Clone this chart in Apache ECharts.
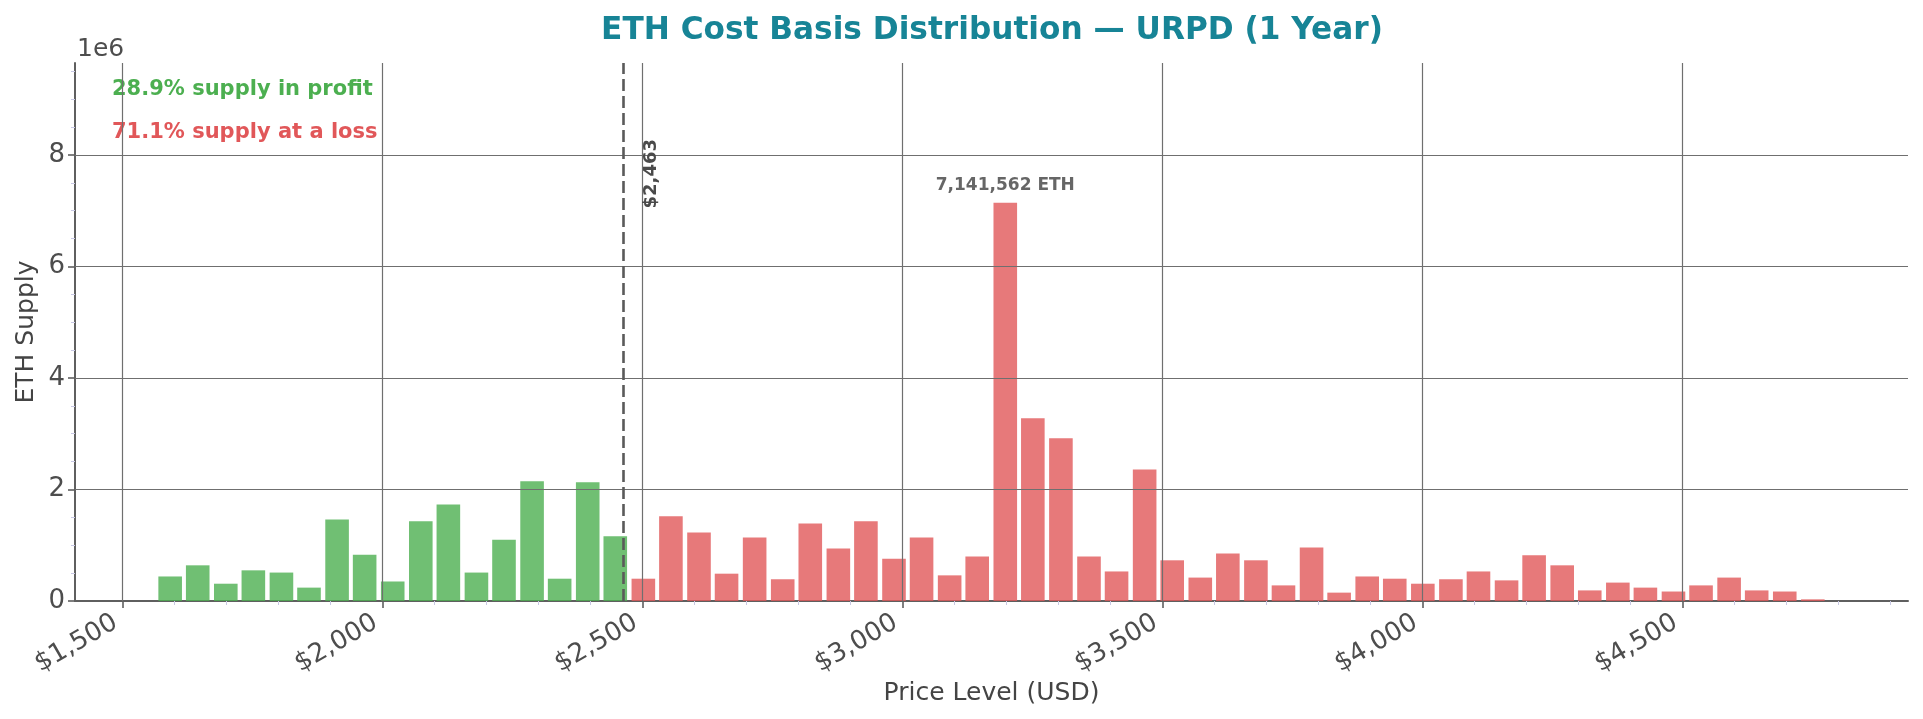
<!DOCTYPE html>
<html>
<head>
<meta charset="utf-8">
<title>ETH Cost Basis Distribution</title>
<script src="https://cdn.jsdelivr.net/npm/echarts@6/dist/echarts.min.js"></script>
<style>
    html, body { margin: 0; padding: 0; background: #fff; }
    #chart { width: 1923px; height: 719px; }
</style>
</head>
<body>
<div id="chart"></div>
<script>
/* global echarts */

// Centro de cada rango de precio (USD)
const priceLevels = [
    1592, 1645, 1699, 1752, 1806, 1859, 1913, 1966, 2020, 2074,
    2127, 2181, 2234, 2288, 2341, 2395, 2448, 2502, 2555, 2609,
    2662, 2716, 2770, 2823, 2877, 2930, 2984, 3037, 3091, 3144,
    3198, 3251, 3305, 3359, 3412, 3466, 3519, 3573, 3626, 3680,
    3733, 3787, 3840, 3894, 3947, 4001, 4055, 4108, 4162, 4215,
    4269, 4322, 4376, 4429, 4483, 4536, 4590, 4643, 4697, 4751
];

// ETH en cada rango
const supply = [
    440000, 640000, 310000, 550000, 510000, 240000, 1460000, 830000, 350000, 1430000,
    1730000, 510000, 1100000, 2150000, 400000, 2130000, 1160000, 400000, 1520000, 1230000,
    490000, 1140000, 390000, 1390000, 940000, 1430000, 760000, 1140000, 460000, 800000,
    7141562, 3280000, 2920000, 800000, 530000, 2360000, 730000, 420000, 850000, 730000,
    280000, 960000, 150000, 440000, 400000, 310000, 390000, 530000, 370000, 820000,
    640000, 190000, 330000, 240000, 170000, 280000, 420000, 190000, 170000, 30000
];

const currentPrice = 2463;
const priceTicks = [1500, 2000, 2500, 3000, 3500, 4000, 4500];
const supplyTicks = [0, 2e6, 4e6, 6e6, 8e6];

const priceMinorTicks = [];
for (let v = 1500; v <= 4900; v += 100) {
    if (v % 500 !== 0) priceMinorTicks.push(v);
}
const supplyMinorTicks = [];
for (let v = 500000; v <= 9500000; v += 500000) {
    if (v % 2000000 !== 0) supplyMinorTicks.push(v);
}

const GREEN = '#4CAF50';
const RED = '#E15759';
const FONT = 'DejaVu Sans';

const initChart = () => {
    const chart = echarts.init(document.getElementById('chart'));
    const maxSupply = Math.max(...supply);

    const barData = priceLevels.map((p, i) => {
        const item = { value: [p, supply[i]] };
        if (supply[i] === maxSupply) {
            item.label = {
                show: true,
                position: 'top',
                distance: 9,
                formatter: () => supply[i].toLocaleString('en-US') + ' ETH',
                fontFamily: FONT,
                fontWeight: 'bold',
                fontSize: 17,
                color: '#404040'
            };
        }
        return item;
    });

    const gridLineStyle = { color: '#6f6f6f', width: 1.2, type: 'solid' };
    const gridLines = priceTicks.map(v => ({ xAxis: v, lineStyle: gridLineStyle }))
        .concat(supplyTicks.filter(v => v > 0).map(v => ({ yAxis: v, lineStyle: gridLineStyle })));

    chart.setOption({
        animation: false,
        backgroundColor: '#fff',
        textStyle: { fontFamily: FONT },
        title: {
            text: 'ETH Cost Basis Distribution — URPD (1 Year)',
            left: 987,
            top: 10,
            textAlign: 'center',
            textStyle: { fontFamily: FONT, fontSize: 31.2, fontWeight: 'bold', color: '#178496' }
        },
        grid: { left: 75, right: 15, top: 63, bottom: 118, containLabel: false },
        xAxis: [
            {
                type: 'value',
                min: 1409,
                max: 4934,
                name: 'Price Level (USD)',
                nameLocation: 'middle',
                nameGap: 80,
                nameMoveOverlap: false,
                nameTextStyle: { fontFamily: FONT, fontSize: 25, color: '#444' },
                axisLine: { show: true, onZero: false, lineStyle: { color: '#5f5f5f', width: 2 } },
                axisTick: { show: true, customValues: priceTicks, length: 7, lineStyle: { color: '#5f5f5f', width: 1.6 } },
                axisLabel: {
                    customValues: priceTicks,
                    rotate: 30,
                    margin: 31,
                    align: 'right',
                    verticalAlign: 'bottom',
                    fontFamily: FONT,
                    fontSize: 26,
                    color: '#4d4d4d',
                    formatter: v => '$' + v.toLocaleString('en-US')
                },
                splitLine: { show: false }
            },
            {
                type: 'value',
                min: 1409,
                max: 4934,
                position: 'bottom',
                axisLine: { show: false },
                axisTick: { show: true, customValues: priceMinorTicks, length: 4, lineStyle: { color: '#c8c8e4', width: 1 } },
                axisLabel: { show: false },
                splitLine: { show: false }
            }
        ],
        yAxis: [
            {
                type: 'value',
                min: 0,
                max: 9.65e6,
                name: 'ETH Supply',
                nameLocation: 'middle',
                nameGap: 36,
                nameMoveOverlap: false,
                nameTextStyle: { fontFamily: FONT, fontSize: 25, color: '#444' },
                axisLine: { show: true, lineStyle: { color: '#5f5f5f', width: 2 } },
                axisTick: { show: true, customValues: supplyTicks, length: 7, lineStyle: { color: '#5f5f5f', width: 1.6 } },
                axisLabel: {
                    customValues: supplyTicks,
                    margin: 10,
                    fontFamily: FONT,
                    fontSize: 26,
                    color: '#4d4d4d',
                    formatter: v => String(v / 1e6)
                },
                splitLine: { show: false }
            },
            {
                type: 'value',
                min: 0,
                max: 9.65e6,
                position: 'left',
                axisLine: { show: false },
                axisTick: { show: true, customValues: supplyMinorTicks, length: 4, lineStyle: { color: '#c8c8e4', width: 1 } },
                axisLabel: { show: false },
                splitLine: { show: false }
            }
        ],
        graphic: [
            {
                type: 'text', left: 77, top: 37,
                style: { text: '1e6', fontFamily: FONT, fontSize: 25, fill: '#4d4d4d' }
            },
            {
                type: 'text', left: 112, top: 79,
                style: { text: '28.9% supply in profit', fontFamily: FONT, fontSize: 21, fontWeight: 'bold', fill: GREEN }
            },
            {
                type: 'text', left: 112, top: 122,
                style: { text: '71.1% supply at a loss', fontFamily: FONT, fontSize: 21, fontWeight: 'bold', fill: RED }
            }
        ],
        series: [
            {
                name: 'Supply',
                type: 'bar',
                xAxisIndex: 0,
                yAxisIndex: 0,
                barWidth: 23.6,
                data: barData,
                itemStyle: {
                    opacity: 0.8,
                    color: params => params.value[0] < currentPrice ? GREEN : RED
                },
                markLine: {
                    silent: true,
                    symbol: 'none',
                    label: { show: false },
                    data: gridLines.concat([
                        { xAxis: currentPrice, lineStyle: { color: '#5a5a5a', width: 2.6, type: [12, 5] } }
                    ])
                },
                markPoint: {
                    silent: true,
                    symbol: 'circle',
                    symbolSize: 0,
                    data: [{ coord: [currentPrice + 55, 7.04e6] }],
                    label: {
                        show: true,
                        position: 'inside',
                        rotate: 90,
                        align: 'left',
                        verticalAlign: 'middle',
                        formatter: () => '$' + currentPrice.toLocaleString('en-US'),
                        fontFamily: FONT,
                        fontWeight: 'bold',
                        fontSize: 18,
                        color: '#4a4a4a'
                    }
                }
            }
        ]
    });
};

window.addEventListener('load', () => {
    initChart();
});
</script>
</body>
</html>
